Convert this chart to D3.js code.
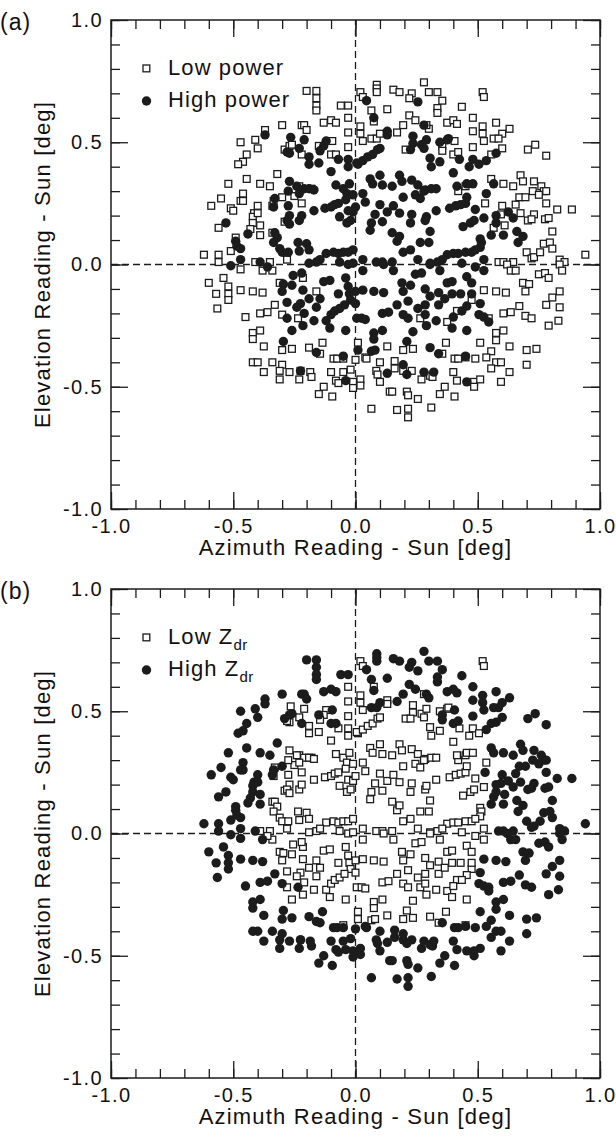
<!DOCTYPE html>
<html>
<head>
<meta charset="utf-8">
<script src="https://cdn.jsdelivr.net/npm/d3@7"></script>
<style>
  body { margin: 0; background: #fff; }
  svg { display: block; font-family: "Liberation Sans", Arial, Helvetica, sans-serif; }
</style>
</head>
<body>
<div id="chart"></div>
<script>
// scan offsets [azimuth, elevation, power class (1 = high), Zdr class (1 = high)]
const scan = [
  // low power (squares in panel a)
  [-0.20,0.71,0,1],[-0.16,0.71,0,1],[-0.16,0.68,0,1],[-0.16,0.65,0,1],[-0.16,0.63,0,1],[-0.06,0.65,0,1],[-0.03,0.65,0,1],
  [-0.10,0.59,0,1],[-0.08,0.58,0,1],[-0.13,0.58,0,1],[-0.03,0.60,0,0],[-0.03,0.54,0,0],[-0.30,0.57,0,1],[-0.22,0.57,0,1],
  [-0.21,0.57,0,1],[-0.20,0.55,0,1],[-0.37,0.55,0,1],[-0.41,0.51,0,1],[-0.47,0.50,0,1],[-0.40,0.475,0,1],[-0.29,0.47,0,1],
  [-0.27,0.485,0,1],[-0.26,0.49,0,1],[-0.22,0.45,0,1],[-0.15,0.485,0,1],[-0.095,0.505,0,1],[-0.10,0.45,0,1],[-0.08,0.45,0,1],
  [-0.03,0.48,0,0],[-0.445,0.45,0,1],[-0.46,0.42,0,1],[-0.48,0.41,0,1],[-0.445,0.35,0,1],[-0.52,0.33,0,1],[-0.39,0.33,0,1],
  [-0.35,0.32,0,1],[-0.32,0.37,0,1],[-0.46,0.29,0,1],[-0.55,0.27,0,1],[-0.59,0.24,0,1],[-0.51,0.23,0,1],[-0.50,0.22,0,1],
  [-0.47,0.26,0,1],[-0.46,0.26,0,1],[-0.40,0.24,0,1],[-0.415,0.21,0,1],[-0.42,0.195,0,1],[-0.40,0.21,0,1],[-0.34,0.24,0,1],
  [-0.335,0.26,0,1],[-0.30,0.275,0,1],[-0.25,0.28,0,0],[-0.22,0.25,0,0],[-0.18,0.31,0,0],[-0.23,0.32,0,0],[-0.42,0.17,0,1],
  [-0.39,0.16,0,1],[-0.43,0.145,0,1],[-0.39,0.12,0,1],[-0.56,0.15,0,1],[-0.49,0.11,0,1],[-0.34,0.13,0,0],[-0.29,0.175,0,0],
  [-0.62,0.04,0,1],[-0.56,0.04,0,1],[-0.51,0.055,0,1],[-0.56,0.01,0,1],[-0.41,0.01,0,1],[-0.35,0.01,0,0],[-0.28,0.02,0,0],
  [0.02,0.705,0,0],[0.03,0.685,0,0],[0.087,0.735,0,1],[0.087,0.72,0,1],[0.087,0.705,0,1],[0.155,0.715,0,1],[0.18,0.705,0,1],
  [0.23,0.70,0,1],[0.22,0.68,0,1],[0.28,0.745,0,1],[0.30,0.705,0,1],[0.335,0.705,0,1],[0.355,0.67,0,1],[0.335,0.64,0,1],
  [0.335,0.62,0,1],[0.435,0.645,0,1],[0.52,0.705,0,0],[0.525,0.685,0,0],[0.02,0.565,0,0],[0.02,0.535,0,0],[0.03,0.505,0,0],
  [0.065,0.63,0,1],[0.075,0.585,0,1],[0.13,0.635,0,1],[0.065,0.515,0,1],[0.087,0.515,0,1],[0.10,0.535,0,1],[0.17,0.54,0,1],
  [0.195,0.57,0,1],[0.22,0.61,0,1],[0.245,0.59,0,1],[0.30,0.555,0,1],[0.29,0.57,0,1],[0.375,0.58,0,1],[0.40,0.59,0,1],
  [0.415,0.575,0,1],[0.48,0.60,0,1],[0.52,0.565,0,1],[0.52,0.535,0,1],[0.525,0.505,0,1],[0.575,0.58,0,1],[0.60,0.535,0,1],
  [0.63,0.555,0,1],[0.48,0.545,0,1],[0.205,0.47,0,0],[0.355,0.485,0,1],[0.355,0.465,0,1],[0.405,0.505,0,1],[0.40,0.45,0,1],
  [0.42,0.46,0,1],[0.48,0.48,0,1],[0.565,0.515,0,1],[0.585,0.515,0,1],[0.60,0.475,0,1],[0.555,0.45,0,1],[0.705,0.47,0,1],
  [0.735,0.49,0,1],[0.78,0.445,0,1],[0.555,0.35,0,1],[0.605,0.33,0,1],[0.645,0.32,0,1],[0.675,0.365,0,1],[0.685,0.34,0,1],
  [0.73,0.34,0,1],[0.76,0.32,0,1],[0.725,0.30,0,1],[0.77,0.30,0,1],[0.78,0.30,0,1],[0.42,0.30,0,0],[0.45,0.32,0,0],
  [0.53,0.25,0,1],[0.60,0.24,0,1],[0.655,0.245,0,1],[0.67,0.275,0,1],[0.695,0.275,0,1],[0.675,0.21,0,1],[0.73,0.205,0,1],
  [0.75,0.285,0,1],[0.78,0.25,0,1],[0.775,0.185,0,1],[0.79,0.19,0,1],[0.825,0.225,0,1],[0.885,0.225,0,1],[0.595,0.205,0,1],
  [0.61,0.16,0,1],[0.565,0.15,0,1],[0.705,0.18,0,1],[0.72,0.185,0,1],[0.805,0.135,0,1],[0.77,0.085,0,1],[0.795,0.09,0,1],
  [0.805,0.065,0,1],[0.70,0.05,0,1],[0.72,0.025,0,1],[0.73,0.03,0,1],[0.755,0.05,0,1],[0.94,0.04,0,1],[0.585,0.01,0,1],
  [0.605,0.01,0,1],[0.645,0.01,0,1],[0.62,0.0,0,1],[0.835,0.02,0,1],[0.855,0.01,0,1],[0.835,0.0,0,1],
  [-0.47,-0.02,0,1],[-0.34,-0.025,0,0],[-0.38,-0.025,0,1],[-0.60,-0.075,0,1],[-0.54,-0.055,0,1],[-0.57,-0.12,0,1],
  [-0.52,-0.09,0,1],[-0.52,-0.12,0,1],[-0.52,-0.145,0,1],[-0.47,-0.105,0,1],[-0.42,-0.11,0,1],[-0.38,-0.115,0,1],
  [-0.565,-0.18,0,1],[-0.45,-0.215,0,1],[-0.39,-0.20,0,1],[-0.36,-0.195,0,1],[-0.33,-0.165,0,1],[-0.30,-0.205,0,1],
  [-0.235,-0.22,0,1],[-0.31,-0.075,0,0],[-0.215,-0.055,0,0],[-0.16,-0.11,0,0],[-0.42,-0.28,0,1],[-0.42,-0.305,0,1],
  [-0.39,-0.27,0,1],[-0.375,-0.335,0,1],[-0.30,-0.35,0,1],[-0.26,-0.345,0,1],[-0.19,-0.34,0,1],[-0.135,-0.32,0,1],
  [-0.145,-0.365,0,1],[-0.42,-0.40,0,1],[-0.40,-0.40,0,1],[-0.34,-0.40,0,1],[-0.30,-0.41,0,1],[-0.31,-0.435,0,1],
  [-0.27,-0.44,0,1],[-0.225,-0.435,0,1],[-0.185,-0.44,0,1],[-0.18,-0.46,0,1],[-0.375,-0.44,0,1],[-0.31,-0.47,0,1],
  [-0.23,-0.47,0,1],[-0.09,-0.385,0,1],[-0.075,-0.385,0,1],[-0.05,-0.385,0,1],[-0.02,-0.43,0,1],[-0.05,-0.44,0,1],
  [-0.10,-0.44,0,1],[-0.08,-0.475,0,1],[-0.07,-0.485,0,1],[-0.13,-0.50,0,1],[-0.15,-0.53,0,1],[-0.095,-0.54,0,1],
  [-0.01,-0.48,0,1],[-0.01,-0.505,0,1],
  [0.635,-0.025,0,1],[0.655,-0.025,0,1],[0.845,-0.025,0,1],[0.75,-0.04,0,1],[0.775,-0.035,0,1],[0.79,-0.055,0,1],
  [0.685,-0.075,0,1],[0.71,-0.08,0,1],[0.695,-0.11,0,1],[0.575,-0.11,0,1],[0.615,-0.115,0,1],[0.525,-0.105,0,1],
  [0.835,-0.11,0,1],[0.805,-0.135,0,1],[0.78,-0.165,0,1],[0.835,-0.175,0,1],[0.67,-0.17,0,1],[0.635,-0.195,0,1],
  [0.605,-0.20,0,1],[0.695,-0.21,0,1],[0.72,-0.22,0,1],[0.79,-0.25,0,1],[0.83,-0.23,0,1],[0.475,-0.145,0,0],
  [0.415,-0.19,0,0],[0.375,-0.235,0,0],[0.265,-0.22,0,0],[0.545,-0.22,0,1],[0.575,-0.28,0,1],[0.575,-0.31,0,1],
  [0.605,-0.27,0,1],[0.63,-0.335,0,1],[0.70,-0.35,0,1],[0.74,-0.345,0,1],[0.70,-0.41,0,1],[0.555,-0.355,0,1],
  [0.535,-0.38,0,1],[0.49,-0.385,0,1],[0.575,-0.40,0,1],[0.595,-0.40,0,1],[0.555,-0.425,0,1],[0.63,-0.44,0,1],
  [0.595,-0.48,0,1],[0.51,-0.32,0,1],[0.37,-0.32,0,0],[0.355,-0.365,0,1],[0.235,-0.345,0,0],[0.195,-0.35,0,0],
  [0.13,-0.335,0,0],[0.01,-0.32,0,0],[0.0,-0.39,0,1],[0.04,-0.38,0,1],[0.045,-0.385,0,1],[0.10,-0.40,0,1],[0.16,-0.395,0,1],
  [0.16,-0.425,0,1],[0.195,-0.435,0,1],[0.23,-0.435,0,1],[0.27,-0.47,0,1],[0.305,-0.455,0,1],[0.315,-0.46,0,1],
  [0.40,-0.44,0,1],[0.415,-0.475,0,1],[0.45,-0.38,0,1],[0.405,-0.385,0,1],[0.42,-0.385,0,1],[0.485,-0.48,0,1],
  [0.51,-0.47,0,1],[0.485,-0.50,0,1],[0.085,-0.435,0,1],[0.09,-0.45,0,1],[0.10,-0.48,0,1],[0.14,-0.52,0,1],[0.15,-0.52,0,1],
  [0.21,-0.52,0,1],[0.215,-0.535,0,1],[0.255,-0.55,0,1],[0.345,-0.53,0,1],[0.365,-0.50,0,1],[0.405,-0.54,0,1],
  [0.02,-0.47,0,1],[0.02,-0.495,0,1],[0.065,-0.59,0,1],[0.17,-0.595,0,1],[0.215,-0.59,0,1],[0.215,-0.625,0,1],[0.31,-0.585,0,1],
  // high power (dots in panel a)
  [-0.37,0.53,1,1],[-0.265,0.52,1,0],[-0.21,0.51,1,0],[-0.27,0.455,1,0],[-0.28,0.46,1,0],[-0.23,0.475,1,0],[-0.19,0.44,1,0],
  [-0.19,0.41,1,0],[-0.15,0.415,1,0],[-0.12,0.505,1,0],[-0.13,0.485,1,0],[-0.145,0.465,1,0],[-0.07,0.43,1,0],[-0.10,0.38,1,0],
  [-0.03,0.40,1,0],[-0.03,0.43,1,0],[0.01,0.41,1,0],[-0.27,0.34,1,0],[-0.24,0.32,1,0],[-0.21,0.31,1,0],[-0.19,0.31,1,0],
  [-0.17,0.305,1,0],[-0.275,0.30,1,0],[-0.23,0.29,1,0],[-0.08,0.325,1,0],[-0.05,0.31,1,0],[-0.025,0.33,1,0],[-0.035,0.29,1,0],
  [-0.01,0.285,1,0],[-0.33,0.27,1,0],[-0.335,0.235,1,0],[-0.275,0.24,1,0],[-0.27,0.20,1,0],[-0.28,0.18,1,0],[-0.27,0.165,1,0],
  [-0.23,0.18,1,0],[-0.22,0.20,1,0],[-0.17,0.22,1,0],[-0.125,0.23,1,0],[-0.10,0.235,1,0],[-0.085,0.245,1,0],[-0.07,0.25,1,0],
  [-0.04,0.265,1,0],[-0.03,0.22,1,0],[-0.01,0.215,1,0],[-0.065,0.195,1,0],[-0.035,0.17,1,0],[-0.02,0.18,1,0],[-0.53,0.17,1,1],
  [-0.44,0.125,1,1],[-0.33,0.13,1,0],[-0.32,0.11,1,0],[-0.335,0.09,1,0],[-0.31,0.065,1,0],[-0.49,0.095,1,1],[-0.485,0.075,1,1],
  [-0.47,0.065,1,1],[-0.30,0.05,1,0],[-0.275,0.05,1,0],[-0.235,0.09,1,0],[-0.20,0.085,1,0],[-0.23,0.055,1,0],[-0.19,0.06,1,0],
  [-0.12,0.045,1,0],[-0.09,0.05,1,0],[-0.07,0.045,1,0],[-0.05,0.05,1,0],[-0.03,0.05,1,0],[-0.01,0.06,1,0],[-0.51,-0.005,1,1],
  [-0.47,0.02,1,1],[-0.39,0.01,1,0],[-0.36,-0.01,1,0],[-0.19,0.005,1,0],[-0.16,0.01,1,0],[-0.145,0.02,1,0],[-0.065,0.01,1,0],
  [-0.03,0.0,1,0],[-0.01,0.005,1,0],
  [0.045,0.67,1,1],[0.075,0.60,1,0],[0.255,0.665,1,1],[0.28,0.57,1,0],[0.13,0.545,1,0],[0.13,0.53,1,0],[0.235,0.525,1,0],
  [0.235,0.495,1,0],[0.225,0.47,1,0],[0.27,0.49,1,0],[0.29,0.51,1,0],[0.28,0.475,1,0],[0.305,0.435,1,0],[0.31,0.40,1,0],
  [0.345,0.50,1,0],[0.375,0.51,1,0],[0.38,0.515,1,0],[0.345,0.42,1,0],[0.40,0.375,1,0],[0.425,0.43,1,0],[0.465,0.40,1,0],
  [0.48,0.43,1,0],[0.505,0.41,1,0],[0.535,0.425,1,1],[0.575,0.455,1,1],[0.005,0.415,1,0],[0.03,0.425,1,0],[0.05,0.44,1,0],
  [0.07,0.45,1,0],[0.09,0.47,1,0],[0.10,0.475,1,0],[0.06,0.35,1,0],[0.10,0.365,1,0],[0.07,0.33,1,0],[0.11,0.325,1,0],
  [0.15,0.32,1,0],[0.18,0.365,1,0],[0.19,0.34,1,0],[0.23,0.345,1,0],[0.255,0.325,1,0],[0.285,0.305,1,0],[0.31,0.31,1,0],
  [0.33,0.31,1,0],[0.415,0.32,1,0],[0.455,0.33,1,0],[0.48,0.33,1,0],[0.565,0.33,1,1],[0.535,0.29,1,0],[0.03,0.29,1,0],
  [0.04,0.255,1,0],[0.0,0.235,1,0],[0.10,0.245,1,0],[0.08,0.205,1,0],[0.13,0.215,1,0],[0.155,0.24,1,0],[0.195,0.275,1,0],
  [0.18,0.21,1,0],[0.23,0.205,1,0],[0.225,0.17,1,0],[0.245,0.285,1,0],[0.265,0.27,1,0],[0.28,0.30,1,0],[0.15,0.13,1,0],
  [0.11,0.175,1,0],[0.065,0.17,1,0],[0.06,0.14,1,0],[0.17,0.095,1,0],[0.18,0.115,1,0],[0.265,0.09,1,0],[0.30,0.09,1,0],
  [0.305,0.135,1,0],[0.285,0.18,1,0],[0.29,0.195,1,0],[0.33,0.22,1,0],[0.385,0.23,1,0],[0.41,0.24,1,0],[0.43,0.245,1,0],
  [0.45,0.25,1,0],[0.455,0.275,1,0],[0.49,0.225,1,0],[0.44,0.155,1,0],[0.47,0.17,1,0],[0.485,0.18,1,0],[0.525,0.19,1,0],
  [0.51,0.105,1,0],[0.515,0.09,1,0],[0.51,0.07,1,0],[0.575,0.20,1,1],[0.575,0.17,1,1],[0.555,0.12,1,1],[0.625,0.215,1,1],
  [0.645,0.19,1,1],[0.605,0.12,1,1],[0.66,0.135,1,1],[0.685,0.115,1,1],[0.665,0.09,1,1],[0.195,0.05,1,0],[0.225,0.06,1,0],
  [0.255,0.02,1,0],[0.375,0.04,1,0],[0.40,0.045,1,0],[0.42,0.045,1,0],[0.45,0.05,1,0],[0.475,0.05,1,0],[0.49,0.06,1,0],
  [0.03,0.02,1,0],[0.085,0.01,1,0],[0.11,0.01,1,0],[0.15,0.01,1,0],[0.305,0.005,1,0],[0.335,0.01,1,0],[0.355,0.02,1,0],
  [0.435,0.005,1,0],[0.525,0.02,1,0],
  [-0.255,-0.045,1,0],[-0.22,-0.035,1,0],[-0.295,-0.08,1,0],[-0.30,-0.11,1,0],[-0.26,-0.085,1,0],[-0.13,-0.07,1,0],
  [-0.105,-0.065,1,0],[-0.07,-0.12,1,0],[-0.04,-0.055,1,0],[-0.03,-0.09,1,0],[-0.025,-0.12,1,0],[-0.02,-0.145,1,0],
  [-0.215,-0.105,1,0],[-0.19,-0.14,1,0],[-0.225,-0.16,1,0],[-0.24,-0.175,1,0],[-0.28,-0.155,1,0],[-0.28,-0.22,1,0],
  [-0.21,-0.20,1,0],[-0.17,-0.23,1,0],[-0.12,-0.23,1,0],[-0.10,-0.205,1,0],[-0.085,-0.19,1,0],[-0.065,-0.18,1,0],
  [-0.045,-0.165,1,0],[-0.145,-0.14,1,0],[-0.16,-0.175,1,0],[-0.26,-0.27,1,0],[-0.215,-0.25,1,0],[-0.105,-0.26,1,0],
  [-0.04,-0.27,1,0],[0.005,-0.22,1,0],[-0.295,-0.315,1,1],[-0.16,-0.36,1,1],[-0.05,-0.375,1,0],[-0.225,-0.435,1,1],
  [-0.04,-0.475,1,1],[0.01,-0.35,1,0],
  [0.03,-0.025,1,0],[0.155,-0.025,1,0],[0.115,0.0,1,0],[0.305,0.0,1,0],[0.345,-0.025,1,0],[0.49,-0.01,1,0],[0.525,-0.025,1,0],
  [0.0,-0.11,1,0],[0.0,-0.16,1,0],[0.03,-0.105,1,0],[0.075,-0.11,1,0],[0.115,-0.115,1,0],[0.195,-0.11,1,0],[0.19,-0.075,1,0],
  [0.225,-0.085,1,0],[0.245,-0.04,1,0],[0.27,-0.035,1,0],[0.285,-0.10,1,0],[0.34,-0.115,1,0],[0.375,-0.075,1,0],
  [0.395,-0.07,1,0],[0.395,-0.12,1,0],[0.43,-0.12,1,0],[0.455,-0.05,1,0],[0.475,-0.075,1,0],[0.475,-0.12,1,0],
  [0.51,-0.16,1,1],[0.455,-0.17,1,0],[0.435,-0.19,1,0],[0.17,-0.165,1,0],[0.215,-0.15,1,0],[0.255,-0.18,1,0],
  [0.285,-0.165,1,0],[0.305,-0.13,1,0],[0.34,-0.165,1,0],[0.365,-0.14,1,0],[0.025,-0.22,1,0],[0.04,-0.225,1,0],
  [0.11,-0.20,1,0],[0.135,-0.195,1,0],[0.195,-0.205,1,0],[0.215,-0.22,1,0],[0.285,-0.205,1,0],[0.29,-0.25,1,0],
  [0.33,-0.23,1,0],[0.40,-0.215,1,0],[0.395,-0.26,1,0],[0.505,-0.205,1,1],[0.525,-0.215,1,1],[0.545,-0.235,1,1],
  [0.075,-0.28,1,0],[0.075,-0.305,1,0],[0.11,-0.27,1,0],[0.235,-0.275,1,0],[0.455,-0.27,1,0],[0.065,-0.355,1,0],
  [0.08,-0.35,1,0],[0.21,-0.315,1,0],[0.305,-0.34,1,0],[0.34,-0.365,1,0],[0.195,-0.41,1,1],[0.21,-0.45,1,1],
  [0.28,-0.44,1,1],[0.32,-0.44,1,1],[0.45,-0.375,1,0],[0.455,-0.48,1,1],[0.13,-0.445,1,1]
];

const panels = [
  {tag: "(a)", field: 2, top: 20, legend: [["Low power", null], ["High power", null]]},
  {tag: "(b)", field: 3, top: 589, legend: [["Low Z", "dr"], ["High Z", "dr"]]}
];
const majorTicks = [-1.0, -0.5, 0.0, 0.5, 1.0];
const minorTicks = d3.range(-10, 11).map(d => d / 10);
const xTitle = "Azimuth Reading - Sun [deg]";
const yTitle = "Elevation Reading - Sun [deg]";

const width = 616, height = 1143;
const left = 111, right = 600, side = 489;
const fmt = d => d.toFixed(1);
const ink = "#1c1c1c";

const svg = d3.select("#chart").append("svg")
    .attr("width", width)
    .attr("height", height);

panels.forEach(p => {
  const x = d3.scaleLinear().domain([-1, 1]).range([left, right]);
  const y = d3.scaleLinear().domain([-1, 1]).range([p.top + side, p.top]);
  const g = svg.append("g");

  // zero lines
  g.append("line")
      .attr("x1", x(0)).attr("x2", x(0)).attr("y1", y(-1)).attr("y2", y(1))
      .attr("stroke", ink).attr("stroke-width", 1.3).attr("stroke-dasharray", "7,4");
  g.append("line")
      .attr("x1", x(-1)).attr("x2", x(1)).attr("y1", y(0)).attr("y2", y(0))
      .attr("stroke", ink).attr("stroke-width", 1.3).attr("stroke-dasharray", "7,4");

  // ticks on all four sides, pointing inward
  const axes = [
    [d3.axisBottom(x), `translate(0,${y(-1)})`, 10],
    [d3.axisLeft(y), `translate(${x(-1)},0)`, 8],
    [d3.axisTop(x), `translate(0,${y(1)})`, 0],
    [d3.axisRight(y), `translate(${x(1)},0)`, 0]
  ];
  axes.forEach(([ax, tr, pad]) => {
    g.append("g").attr("transform", tr)
        .call(ax.tickValues(minorTicks).tickSize(-9).tickSizeOuter(0).tickFormat(""))
        .call(s => s.select(".domain").remove())
        .call(s => s.selectAll("line").attr("stroke", ink).attr("stroke-width", 1.3));
    g.append("g").attr("transform", tr)
        .call(ax.tickValues(majorTicks).tickSize(-17).tickSizeOuter(0)
          .tickPadding(pad).tickFormat(pad ? fmt : ""))
        .call(s => s.select(".domain").remove())
        .call(s => s.selectAll("line").attr("stroke", ink).attr("stroke-width", 1.3))
        .call(s => s.selectAll("text")
          .attr("font-family", "Liberation Sans, Arial, sans-serif")
          .attr("font-size", 20).attr("letter-spacing", 1.4).attr("fill", "#111"));
  });

  g.append("rect")
      .attr("x", x(-1)).attr("y", y(1))
      .attr("width", x(1) - x(-1)).attr("height", y(-1) - y(1))
      .attr("fill", "none").attr("stroke", ink).attr("stroke-width", 1.5);

  // markers
  const lows = scan.filter(d => d[p.field] === 0);
  const highs = scan.filter(d => d[p.field] === 1);
  g.append("g").selectAll("rect")
    .data(lows)
    .join("rect")
      .attr("x", d => x(d[0]) - 3.4)
      .attr("y", d => y(d[1]) - 3.4)
      .attr("width", 6.8).attr("height", 6.8)
      .attr("fill", "#fff").attr("stroke", ink).attr("stroke-width", 1.3);
  g.append("g").selectAll("circle")
    .data(highs)
    .join("circle")
      .attr("cx", d => x(d[0]))
      .attr("cy", d => y(d[1]))
      .attr("r", 4.7)
      .attr("fill", ink);

  // legend
  const lg = g.append("g").attr("font-size", 22).attr("letter-spacing", 1.1).attr("fill", "#111");
  lg.append("rect").attr("x", 143).attr("y", p.top + 45).attr("width", 6.8).attr("height", 6.8)
      .attr("fill", "#fff").attr("stroke", ink).attr("stroke-width", 1.3);
  lg.append("circle").attr("cx", 146.5).attr("cy", p.top + 81).attr("r", 4.7).attr("fill", ink);
  p.legend.forEach(([label, sub], i) => {
    const t = lg.append("text").attr("x", 168).attr("y", p.top + 55 + i * 32).text(label);
    if (sub) t.append("tspan").attr("dy", 6).attr("font-size", 15).attr("letter-spacing", 0.5).text(sub);
  });

  // titles
  g.append("text")
      .attr("x", (x(-1) + x(1)) / 2).attr("y", y(-1) + 46)
      .attr("text-anchor", "middle").attr("font-size", 22).attr("letter-spacing", 1.2).attr("fill", "#111")
      .text(xTitle);
  g.append("text")
      .attr("transform", `translate(50,${(y(-1) + y(1)) / 2}) rotate(-90)`)
      .attr("text-anchor", "middle").attr("font-size", 22).attr("letter-spacing", 1.2).attr("fill", "#111")
      .text(yTitle);
  g.append("text")
      .attr("x", 0).attr("y", p.top + 10)
      .attr("font-size", 23).attr("letter-spacing", 1).attr("fill", "#111")
      .text(p.tag);
});
</script>
</body>
</html>
